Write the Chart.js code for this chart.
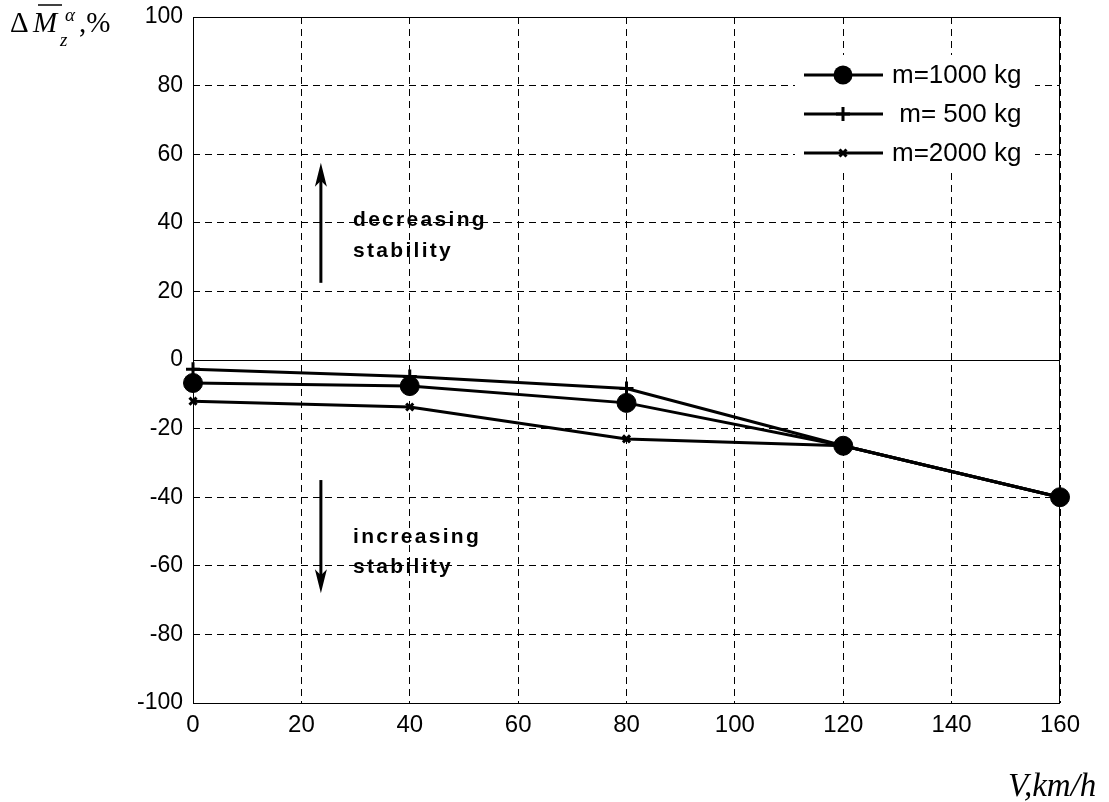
<!DOCTYPE html>
<html>
<head>
<meta charset="utf-8">
<script src="https://cdn.jsdelivr.net/npm/chart.js@4/dist/chart.umd.min.js"></script>
<style>
  html, body { margin: 0; padding: 0; background: #fff; }
  #wrap { width: 1109px; height: 802px; }
</style>
</head>
<body>
<div id="wrap"><canvas id="myChart" width="1109" height="802"></canvas></div>
<script>
// speeds, km/h
var speeds = [0, 40, 80, 120, 160];
// change of moment derivative, %
var m1000 = [-6.7, -7.6, -12.5, -25, -40];
var m500 = [-2.7, -4.8, -8.3, -25, -40];
var m2000 = [-12, -13.7, -23, -25, -40];
var seriesLabels = ['m=1000 kg', ' m= 500 kg', 'm=2000 kg'];
var xTicks = [0, 20, 40, 60, 80, 100, 120, 140, 160];
var yTicks = [-100, -80, -60, -40, -20, 0, 20, 40, 60, 80, 100];

function pts(ys) {
  var out = [];
  for (var i = 0; i < speeds.length; i++) out.push({x: speeds[i], y: ys[i]});
  return out;
}

var sansFont = '"Liberation Sans", Arial, sans-serif';
var serifFont = '"Liberation Serif", "Times New Roman", serif';

// frame, zero line, arrows, notes, legend and axis titles
var extras = {
  id: 'extras',
  beforeDatasetsDraw: function (chart) {
    var c = chart.ctx, a = chart.chartArea, ys = chart.scales.y;
    c.save();
    c.strokeStyle = '#000';
    c.lineWidth = 1;
    c.beginPath();
    c.moveTo(a.left, Math.round(ys.getPixelForValue(0)) + 0.5);
    c.lineTo(a.right, Math.round(ys.getPixelForValue(0)) + 0.5);
    c.stroke();
    c.strokeRect(a.left + 0.5, a.top + 0.5, a.right - a.left - 1, a.bottom - a.top);
    c.restore();
  },
  afterDatasetsDraw: function (chart) {
    var c = chart.ctx;
    var xs = chart.scales.x, ys = chart.scales.y;
    c.save();
    c.strokeStyle = '#000';
    c.fillStyle = '#000';

    // arrows
    function arrow(xv, y1, y2) {
      var px = xs.getPixelForValue(xv);
      var p1 = ys.getPixelForValue(y1), p2 = ys.getPixelForValue(y2);
      var dir = p2 < p1 ? -1 : 1;
      c.lineWidth = 3;
      c.beginPath();
      c.moveTo(px, p1);
      c.lineTo(px, p2 - dir * 14);
      c.stroke();
      c.beginPath();
      c.moveTo(px, p2);
      c.lineTo(px - 6, p2 - dir * 24);
      c.lineTo(px, p2 - dir * 18);
      c.lineTo(px + 6, p2 - dir * 24);
      c.closePath();
      c.fill();
    }
    arrow(23.6, 22.5, 57.5);
    arrow(23.6, -35, -68);

    c.font = 'bold 21px ' + sansFont;
    c.textAlign = 'left';
    c.textBaseline = 'alphabetic';
    if ('letterSpacing' in c) c.letterSpacing = '2.3px';
    c.fillText('decreasing', 353, 226);
    c.fillText('stability', 353, 257);
    c.fillText('increasing', 353, 543);
    c.fillText('stability', 353, 573);
    if ('letterSpacing' in c) c.letterSpacing = '0px';

    // legend (white box, no border)
    c.fillStyle = '#fff';
    c.fillRect(795, 55, 240, 118);
    c.fillStyle = '#000';
    var ds = chart.data.datasets;
    for (var i = 0; i < ds.length; i++) {
      var ly = 75 + i * 39;
      c.lineWidth = 3;
      c.beginPath();
      c.moveTo(804, ly);
      c.lineTo(883, ly);
      c.stroke();
      var r = ds[i].pointRadius;
      c.lineWidth = ds[i].pointBorderWidth;
      if (ds[i].pointStyle === 'circle') {
        c.beginPath();
        c.arc(843, ly, r, 0, Math.PI * 2);
        c.fill();
      } else if (ds[i].pointStyle === 'cross') {
        c.beginPath();
        c.moveTo(843 - r, ly); c.lineTo(843 + r, ly);
        c.moveTo(843, ly - r); c.lineTo(843, ly + r);
        c.stroke();
      } else {
        var d = r * 0.7;
        c.beginPath();
        c.moveTo(843 - d, ly - d); c.lineTo(843 + d, ly + d);
        c.moveTo(843 - d, ly + d); c.lineTo(843 + d, ly - d);
        c.stroke();
      }
      c.font = '26px ' + sansFont;
      c.textBaseline = 'middle';
      c.fillText(ds[i].label, 892, ly + 1);
    }

    // y title: delta M-bar sub z sup alpha, %
    c.textBaseline = 'alphabetic';
    c.font = '29px ' + serifFont;
    c.fillText('\u0394', 10, 32);
    c.font = 'italic 29px ' + serifFont;
    c.fillText('M', 33, 32);
    c.lineWidth = 1.5;
    c.beginPath();
    c.moveTo(38, 5);
    c.lineTo(62, 5);
    c.stroke();
    c.font = 'italic 19px ' + serifFont;
    c.fillText('\u03b1', 65, 21);
    c.fillText('z', 60, 46);
    c.font = '29px ' + serifFont;
    c.fillText(',%', 79, 32);

    // x title
    c.font = 'italic 33px ' + serifFont;
    c.fillText('V,km/h', 1008, 796);
    c.restore();
  }
};

var ctx = document.getElementById('myChart').getContext('2d');
var chart = new Chart(ctx, {
  type: 'line',
  data: {
    datasets: [{
      label: seriesLabels[0],
      data: pts(m1000),
      borderColor: '#000',
      backgroundColor: '#000',
      borderWidth: 3,
      pointStyle: 'circle',
      pointRadius: 9.5,
      pointBorderWidth: 1,
      pointBackgroundColor: '#000',
      clip: false
    }, {
      label: seriesLabels[1],
      data: pts(m500),
      borderColor: '#000',
      backgroundColor: '#000',
      borderWidth: 3,
      pointStyle: 'cross',
      pointRadius: 7,
      pointBorderWidth: 3,
      clip: false
    }, {
      label: seriesLabels[2],
      data: pts(m2000),
      borderColor: '#000',
      backgroundColor: '#000',
      borderWidth: 3,
      pointStyle: 'crossRot',
      pointRadius: 5,
      pointBorderWidth: 3,
      clip: false
    }]
  },
  options: {
    responsive: false,
    animation: false,
    layout: { padding: { left: 0, top: 17, right: 49, bottom: 0 } },
    plugins: { legend: { display: false }, tooltip: { enabled: false } },
    elements: { line: { tension: 0 } },
    scales: {
      x: {
        type: 'linear',
        min: 0, max: 160,
        afterBuildTicks: function (s) { s.ticks = xTicks.map(function (v) { return {value: v}; }); },
        afterFit: function (s) { s.height = 99; s.paddingLeft = 0; s.paddingRight = 0; },
        grid: { color: '#000', lineWidth: 1, drawTicks: false },
        border: { display: false, dash: [7, 5] },
        ticks: { color: '#000', padding: 8, font: { family: sansFont, size: 24 }, maxRotation: 0 }
      },
      y: {
        min: -100, max: 100,
        afterBuildTicks: function (s) { s.ticks = yTicks.map(function (v) { return {value: v}; }); },
        afterFit: function (s) { s.width = 193; s.paddingTop = 0; s.paddingBottom = 0; },
        grid: { color: '#000', lineWidth: 1, drawTicks: false },
        border: { display: false, dash: [7, 5] },
        ticks: { color: '#000', padding: 10, font: { family: sansFont, size: 23 } }
      }
    }
  },
  plugins: [extras]
});
</script>
</body>
</html>
